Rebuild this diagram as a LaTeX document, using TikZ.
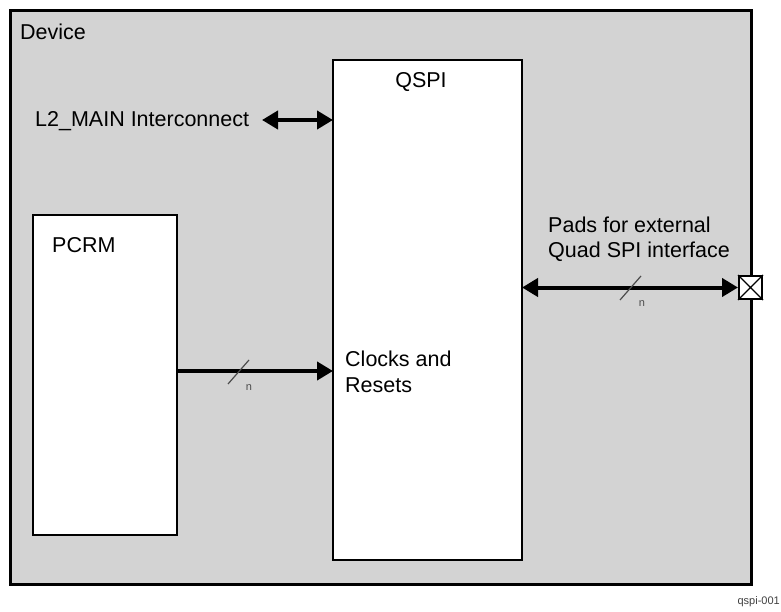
\documentclass[tikz,border=0pt]{standalone}
\usepackage{fontspec}
\setmainfont{Liberation Sans}
\usetikzlibrary{arrows.meta}
\definecolor{devgray}{RGB}{211,211,211}
\tikzset{
  x=1pt,y=-1pt,
  box/.style={draw=black,line width=2.5pt},
  lbl/.style={font=\fontsize{21.5}{25.5}\selectfont,inner sep=0pt,anchor=base west,text=black},
  bus/.style={line width=4pt,{Triangle[length=16pt,width=18pt]}-{Triangle[length=16pt,width=18pt]}},
  busone/.style={line width=4pt,-{Triangle[length=16pt,width=18pt]}},
  slash/.style={line width=1.2pt,draw=black!70},
  nlbl/.style={font=\fontsize{11}{12}\selectfont,text=black!70,inner sep=0pt}
}
\begin{document}
\begin{tikzpicture}
\useasboundingbox (0,0) rectangle (781,612);
\fill[white] (0,0) rectangle (781,612);
\draw[box,fill=devgray,line width=3pt] (10,11) rectangle (751,584);
\node[lbl] (dev) at (20,40) {Device};
\draw[box,fill=white] (333,60) rectangle (522,560);
\node[lbl,anchor=base] (qspi) at (421,88) {QSPI};
\draw[box,fill=white] (33,215) rectangle (177,535);
\node[lbl] (pcrm) at (52,253) {PCRM};
\node[lbl] (l2) at (35,127) {L2\_MAIN Interconnect};
\coordinate (l2end) at (333,120);
\draw[bus] (262,120) -- (l2end);
\coordinate (pcrmout) at (177,371);
\coordinate (qclk) at (333,371);
\draw[busone] (pcrmout) -- (qclk);
\draw[slash] (228,384) -- (249,360);
\node[nlbl] (n1) at (249,388) {n};
\node[lbl,align=left] (clk) at (345,392) {Clocks and\\Resets};
\node[lbl,align=left] (pads) at (548,258) {Pads for external\\Quad SPI interface};
\node[draw=black,line width=2pt,fill=white,minimum size=23pt,inner sep=0pt] (pad) at (750.5,287.5) {};
\draw[line width=1.2pt] (pad.north west) -- (pad.south east) (pad.north east) -- (pad.south west);
\coordinate (qright) at (522,287.5);
\draw[bus] (qright) -- (pad.west);
\draw[slash] (620,300) -- (641,276);
\node[nlbl] (n2) at (642,304) {n};
\node[font=\fontsize{11}{12}\selectfont,anchor=east,inner sep=0pt,text=black!75] (tag) at (780,602) {qspi-001};
\end{tikzpicture}
\end{document}
